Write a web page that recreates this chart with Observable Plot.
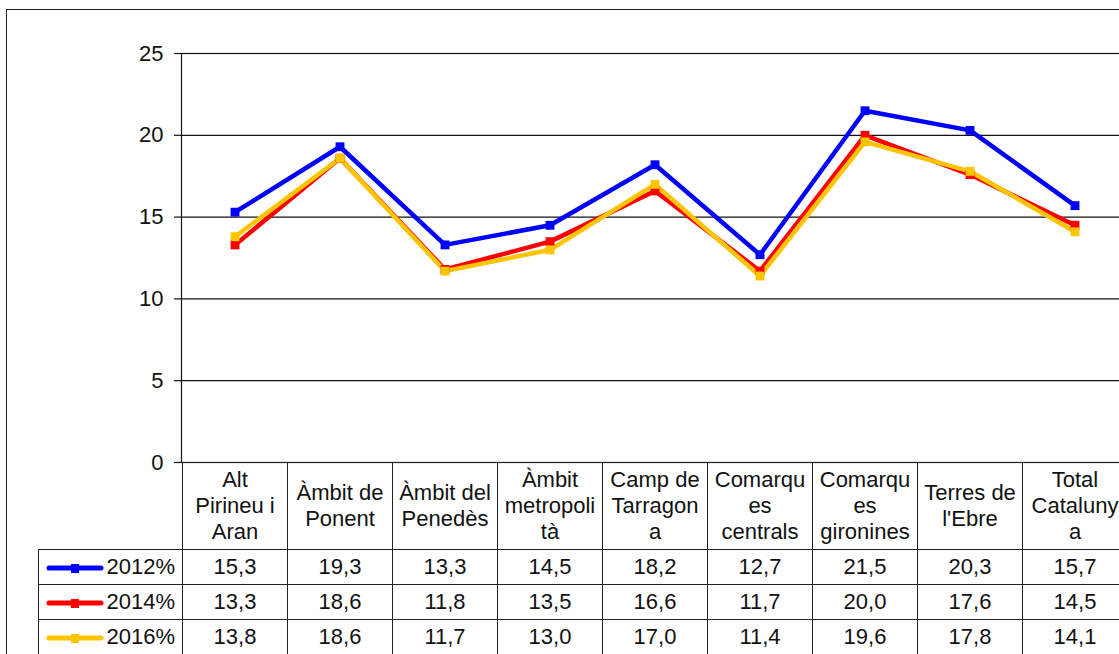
<!DOCTYPE html>
<html><head><meta charset="utf-8">
<script src="https://cdn.jsdelivr.net/npm/d3@7"></script>
<script src="https://cdn.jsdelivr.net/npm/@observablehq/plot@0.6"></script>
<style>
html,body{margin:0;padding:0;background:#fff;overflow:hidden;width:1119px;height:654px}
#wrap{position:relative;width:1140px;height:654px;font-family:"Liberation Sans",Arial,sans-serif}
#frame{position:absolute;left:6px;top:9px;width:1200px;height:700px;border:1.5px solid #222;box-sizing:border-box}
#chart{position:absolute;left:0;top:0}
#chart svg{max-width:none;overflow:visible}
table{position:absolute;border-collapse:collapse;table-layout:fixed;font-size:22px;color:#111}
td{border:1px solid #222;text-align:center;padding:0;line-height:26px;white-space:pre;overflow:visible}
td.leg{text-align:right;padding-right:7px}
td.leg svg{vertical-align:middle;margin-right:2px}
</style></head><body>
<div id="wrap"><div id="frame"></div><div id="chart"></div></div>
<script>
// ---- data ----
const categories = ["Alt Pirineu i Aran","Àmbit de Ponent","Àmbit del Penedès","Àmbit metropolità","Camp de Tarragona","Comarques centrals","Comarques gironines","Terres de l'Ebre","Total Catalunya"];
const headerLabels = ["Alt\nPirineu i\nAran","Àmbit de\nPonent","Àmbit del\nPenedès","Àmbit\nmetropoli\ntà","Camp de\nTarragon\na","Comarqu\nes\ncentrals","Comarqu\nes\ngironines","Terres de\nl'Ebre","Total\nCataluny\na"];
const series = ["2012%","2014%","2016%"];
const values2012 = [15.3,19.3,13.3,14.5,18.2,12.7,21.5,20.3,15.7];
const values2014 = [13.3,18.6,11.8,13.5,16.6,11.7,20.0,17.6,14.5];
const values2016 = [13.8,18.6,11.7,13.0,17.0,11.4,19.6,17.8,14.1];
const seriesColors = ["#0000FF","#FF0000","#FFC400"];
const yTicks = [0,5,10,15,20,25];

const seriesValues = [values2012, values2014, values2016];
const rows = series.flatMap((s,i) => categories.map((c,j) => ({series:s, cat:c, value:seriesValues[i][j]})));

const chart = Plot.plot({
  width: 1140, height: 463,
  marginLeft: 181, marginRight: 13, marginTop: 53, marginBottom: 1,
  style: {fontFamily: "'Liberation Sans', Arial, sans-serif", color: "#111", background: "transparent"},
  x: {type: "band", domain: categories, axis: null, paddingInner: 0, paddingOuter: 0},
  y: {domain: [0, 25], axis: null},
  color: {domain: series, range: seriesColors},
  marks: [
    Plot.ruleY(yTicks.slice(1), {stroke: "#111", strokeWidth: 1.2}),
    Plot.frame({stroke: "#111", strokeWidth: 1.2}),
    Plot.axisY(yTicks, {label: null, tickSize: 7, tickPadding: 11, fontSize: 22, stroke: "#111", strokeWidth: 1.2}),
    Plot.line(rows, {x: "cat", y: "value", z: "series", stroke: "series", strokeWidth: 4.5}),
    Plot.dot(rows, {x: "cat", y: "value", fill: "series", symbol: "square", r: 5})
  ]
});
document.getElementById("chart").appendChild(chart);

// ---- data table under the axis, columns from the x scale ----
const xs = chart.scale("x");
const bw = xs.bandwidth;
const firstX = xs.apply(categories[0]);
const legLeft = 38;
const table = document.createElement("table");
table.style.left = legLeft + "px";
table.style.top = "462px";
table.style.width = (firstX - legLeft + bw * categories.length) + "px";
const cg = document.createElement("colgroup");
const c0 = document.createElement("col"); c0.style.width = (firstX - legLeft) + "px"; cg.appendChild(c0);
categories.forEach(() => { const c = document.createElement("col"); c.style.width = bw + "px"; cg.appendChild(c); });
table.appendChild(cg);
const hr = table.insertRow();
hr.style.height = "87px";
const h0 = hr.insertCell(); h0.style.border = "none"; h0.style.borderBottom = "1px solid #222"; h0.style.borderRight = "1px solid #222";
headerLabels.forEach(l => { const td = hr.insertCell(); td.textContent = l; });
series.forEach((s, i) => {
  const tr = table.insertRow();
  tr.style.height = "35px";
  const td0 = tr.insertCell();
  td0.className = "leg";
  const col = seriesColors[i];
  td0.innerHTML = `<svg width="58" height="14"><line x1="3" y1="7" x2="55" y2="7" stroke="${col}" stroke-width="5" stroke-linecap="round"/><rect x="25" y="3" width="8" height="9" fill="${col}"/></svg>${s}`;
  seriesValues[i].forEach(v => { const td = tr.insertCell(); td.textContent = v.toFixed(1).replace(".", ","); });
});
document.getElementById("wrap").appendChild(table);
</script>
</body></html>
